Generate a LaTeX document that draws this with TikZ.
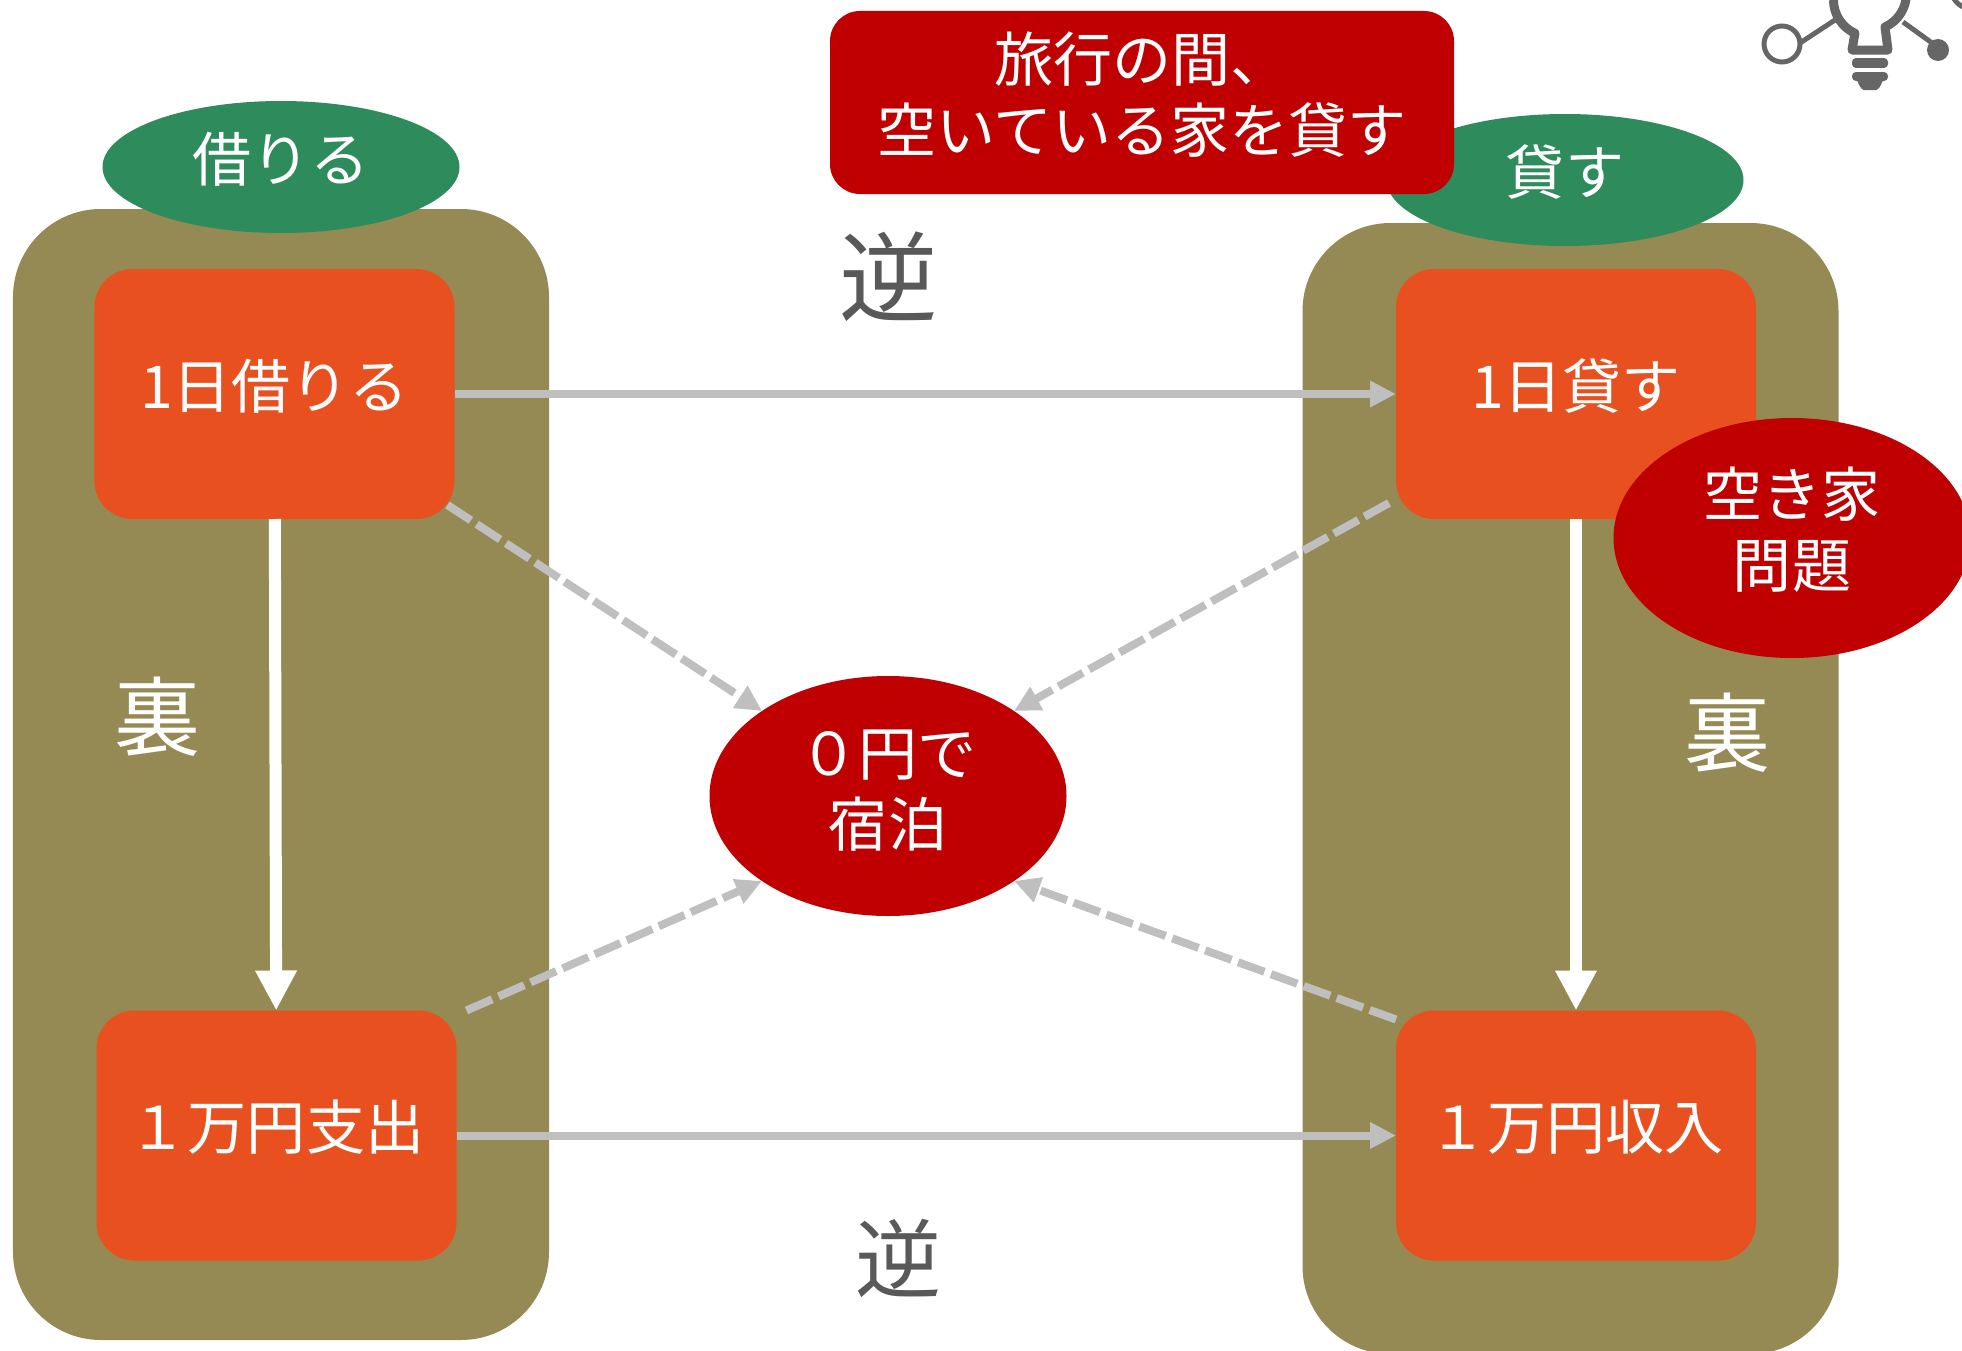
\documentclass[tikz,border=0pt]{standalone}
\usepackage{fontspec}
\setmainfont{Noto Sans CJK JP}
\usetikzlibrary{arrows.meta,shapes.geometric}
\definecolor{panelc}{HTML}{968A54}
\definecolor{boxc}{HTML}{E8501F}
\definecolor{redc}{HTML}{C00000}
\definecolor{greenc}{HTML}{2E8B5B}
\definecolor{linec}{HTML}{BFBFBF}
\definecolor{iconc}{HTML}{666666}
\definecolor{markc}{HTML}{595959}
\newcommand{\mainsize}{\fontsize{16.8}{20.2}\selectfont}
\tikzset{
  panel/.style={fill=panelc,rounded corners=.88cm,minimum width=5.36cm,minimum height=11.31cm,inner sep=0,outer sep=0},
  box/.style={fill=boxc,text=white,rounded corners=.38cm,minimum width=3.6cm,minimum height=2.5cm,inner sep=0,outer sep=0,text height=.5cm,text depth=.22cm,font=\mainsize},
  redoval/.style={ellipse,fill=redc,text=white,minimum width=3.57cm,minimum height=2.4cm,inner sep=0,outer sep=0,align=center,font=\mainsize},
  greenoval/.style={ellipse,fill=greenc,text=white,minimum width=3.57cm,minimum height=1.32cm,inner sep=0,outer sep=0,text height=.5cm,text depth=.22cm,font=\mainsize},
  plainlink/.style={-{Triangle[length=.26cm,width=.25cm]},linec,line width=.08cm},
  whitelink/.style={-{Triangle[length=.4cm,width=.39cm]},white,line width=.12cm},
  dashlink/.style={-{Triangle[length=.26cm,width=.25cm]},linec,line width=.08cm,dash pattern=on .28cm off .07cm},
  bigmark/.style={inner sep=0,font=\fontsize{24.5}{26}\selectfont}
}
\begin{document}
\begin{tikzpicture}
\useasboundingbox (0,0) rectangle (19.62,-13.51);
% panels
\node[panel] (leftpanel) at (2.81,-7.745) {};
\node[panel] (rightpanel) at (15.705,-7.885) {};
% green headings
\node[greenoval] (borrow) at (2.81,-1.67) {借りる};
\node[greenoval] (lend) at (15.65,-1.8) {貸す};
% main boxes
\node[box] (tl) at (2.745,-3.94) {1日借りる};
\node[box] (bl) at (2.765,-11.355) {１万円支出};
\node[box] (tr) at (15.76,-3.94) {1日貸す};
\node[box] (br) at (15.76,-11.355) {１万円収入};
\node[redoval,text depth=.16cm] (stay) at (8.88,-7.96) {０円で\\宿泊};
\node[redoval,text depth=.22cm] (vacant) at (17.92,-5.38) {空き家\\問題};
\node[fill=redc,text=white,rounded corners=.3cm,minimum width=6.24cm,minimum height=1.83cm,inner sep=0,align=center,text depth=.21cm,font=\mainsize] (title) at (11.42,-1.025) {旅行の間、\\空いている家を貸す};
% marks
\node[bigmark,markc,font=\fontsize{28}{29}\selectfont] (revtop) at (8.89,-2.77) {逆};
\node[bigmark,markc] (revbottom) at (8.99,-12.58) {逆};
\node[bigmark,white] (backleft) at (1.58,-7.17) {裏};
\node[bigmark,white] (backright) at (17.28,-7.33) {裏};
% arrows
\draw[plainlink] (tl) -- (tr);
\draw[plainlink] (bl) -- (br);
\draw[whitelink] (tl) -- (bl);
\draw[whitelink] (tr) -- (br);
\draw[dashlink] ([shift={(-.07,.14)}]tl.south east) -- (stay.146);
\draw[dashlink] ([shift={(-.07,.16)}]tr.south west) -- (stay.34);
\draw[dashlink] ([shift={(.1,-.0)}]bl.north east) -- (stay.214);
\draw[dashlink] ([shift={(0,-.09)}]br.north west) -- (stay.-34);
% lamp icon
\draw[iconc,line width=.05cm] (17.82,-.44) circle (.18);
\draw[iconc,line width=.05cm] (18,-.43) -- (18.35,-.2);
\draw[iconc,line width=.05cm] (19.03,-.22) -- (19.32,-.43);
\fill[iconc] (19.38,-.5) circle (.11);
\draw[iconc,line width=.09cm,line join=round] (18.335,0) arc (180:245.6:.365) -- (18.52,-.5) -- (18.88,-.5) -- (18.85,-.27) arc (-65.6:0:.365);
\fill[iconc,rounded corners=.04cm] (18.52,-.58) rectangle (18.88,-.68);
\fill[iconc,rounded corners=.04cm] (18.52,-.72) rectangle (18.88,-.81);
\fill[iconc] (18.57,-.8) -- (18.83,-.8) .. controls (18.81,-.86) and (18.78,-.9) .. (18.76,-.9) -- (18.64,-.9) .. controls (18.62,-.9) and (18.59,-.86) .. (18.57,-.8) -- cycle;
\draw[iconc,line width=.05cm] (19.72,.12) circle (.21);
\end{tikzpicture}
\end{document}
